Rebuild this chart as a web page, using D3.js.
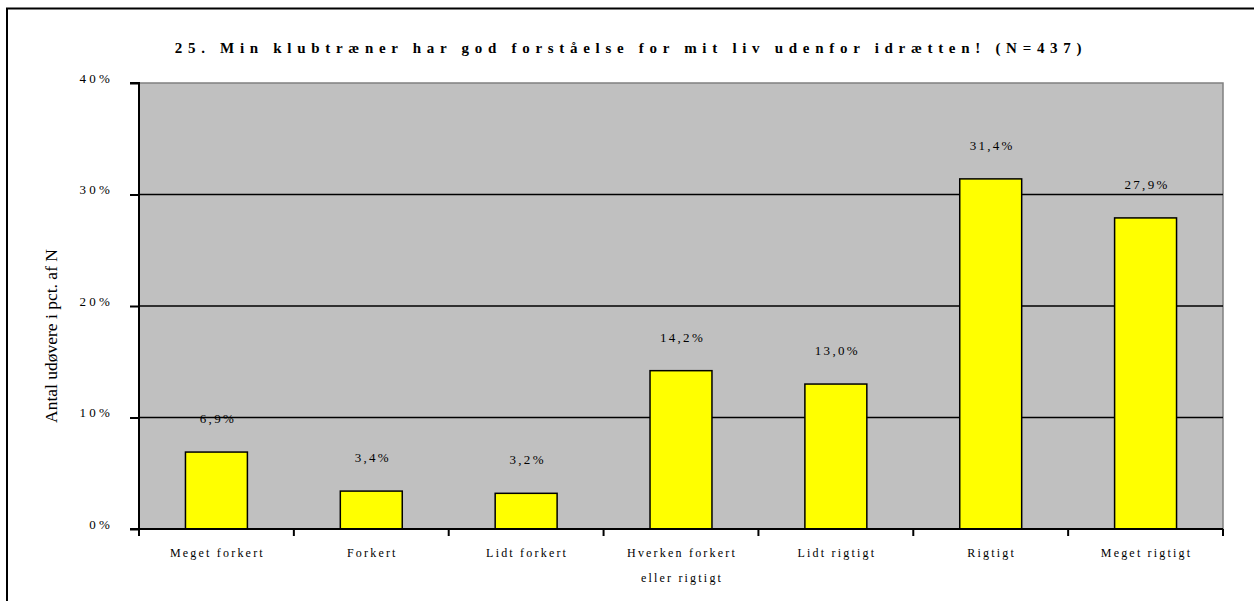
<!DOCTYPE html>
<html>
<head>
<meta charset="utf-8">
<script src="https://cdn.jsdelivr.net/npm/d3@7"></script>
<style>
  body { margin: 0; background: #fff; }
  svg { display: block; }
  text { font-family: "Liberation Serif", "Times New Roman", serif; fill: #000; }
</style>
</head>
<body>
<svg id="chart" width="1254" height="601"></svg>
<script>
const categories = ["Meget forkert", "Forkert", "Lidt forkert", "Hverken forkert|eller rigtigt", "Lidt rigtigt", "Rigtigt", "Meget rigtigt"];
const values = [6.9, 3.4, 3.2, 14.2, 13.0, 31.4, 27.9];
const yTicks = [0, 10, 20, 30, 40];
const title = "25. Min klubtræner har god forståelse for mit liv udenfor idrætten! (N=437)";
const yTitle = "Antal udøvere i pct. af N";

const svg = d3.select("#chart");
const m = { left: 139, right: 1223, top: 83, bottom: 529 };

// outer frame (only top/left visible)
svg.append("path").attr("d", "M7,1260 L7,8.5 L1260,8.5").attr("fill", "none").attr("stroke", "#000").attr("stroke-width", 2);

const x = d3.scaleBand().domain(categories).range([m.left, m.right]).paddingInner(0).paddingOuter(0);
const y = d3.scaleLinear().domain([0, 40]).range([m.bottom, m.top]);

// plot area
svg.append("rect").attr("x", m.left).attr("y", m.top).attr("width", m.right - m.left).attr("height", m.bottom - m.top)
  .attr("fill", "#c0c0c0").attr("stroke", "#808080").attr("stroke-width", 1.5);

// gridlines
svg.append("g").selectAll("line").data(yTicks.filter(d => d > 0 && d < 40)).join("line")
  .attr("x1", m.left).attr("x2", m.right).attr("y1", d => y(d)).attr("y2", d => y(d))
  .attr("stroke", "#000").attr("stroke-width", 1.5);

// bars
const bw = x.bandwidth() * 0.4;
svg.append("g").selectAll("rect").data(values).join("rect")
  .attr("x", (d, i) => x(categories[i]) + x.bandwidth() / 2 - bw / 2)
  .attr("y", d => y(d)).attr("width", bw).attr("height", d => y(0) - y(d))
  .attr("fill", "#ffff00").attr("stroke", "#000").attr("stroke-width", 1.5);

// data labels
svg.append("g").selectAll("text").data(values).join("text")
  .attr("x", (d, i) => x(categories[i]) + x.bandwidth() / 2 + 1.5)
  .attr("y", d => y(d) - 29)
  .attr("text-anchor", "middle").attr("font-size", 13).attr("letter-spacing", 2.3)
  .text(d => d.toFixed(1).replace(".", ",") + "%");

// y axis
const yAxis = d3.axisLeft(y).tickValues(yTicks).tickSize(9).tickPadding(17).tickFormat(d => d + "%");
const ya = svg.append("g").attr("transform", `translate(${m.left},0)`).call(yAxis);
ya.select(".domain").attr("stroke", "#000").attr("stroke-width", 2).attr("d", `M-9,${m.top}H0V${m.bottom}H-9`);
ya.selectAll(".tick line").attr("stroke", "#000").attr("stroke-width", 2);
ya.selectAll(".tick text").attr("font-family", "Liberation Serif").attr("font-size", 13).attr("letter-spacing", 3.2)
  .attr("dy", "-0.05em").attr("fill", "#000");

// x axis
const xTickPos = categories.map(c => x(c)).concat([m.right]);
svg.append("line").attr("x1", m.left).attr("x2", m.right).attr("y1", m.bottom).attr("y2", m.bottom)
  .attr("stroke", "#000").attr("stroke-width", 2);
svg.append("g").selectAll("line").data(xTickPos).join("line")
  .attr("x1", d => d).attr("x2", d => d).attr("y1", m.bottom).attr("y2", m.bottom + 7)
  .attr("stroke", "#000").attr("stroke-width", 2);
const xl = svg.append("g").selectAll("text").data(categories).join("text")
  .attr("x", c => x(c) + x.bandwidth() / 2 + 1)
  .attr("y", 557)
  .attr("text-anchor", "middle").attr("font-size", 12).attr("letter-spacing", 2.2);
xl.each(function(c) {
  const parts = c.split("|");
  parts.forEach((p, i) => d3.select(this).append("tspan").attr("x", x(c) + x.bandwidth() / 2 + 1).attr("dy", i === 0 ? 0 : 25).text(p));
});

// title
svg.append("text").attr("x", 631).attr("y", 53).attr("text-anchor", "middle")
  .attr("font-size", 15).attr("font-weight", "bold").attr("letter-spacing", 5.7).text(title);

// y title
svg.append("text").attr("transform", "translate(57,336) rotate(-90)").attr("text-anchor", "middle")
  .attr("font-size", 17.5).text(yTitle);
</script>
</body>
</html>
